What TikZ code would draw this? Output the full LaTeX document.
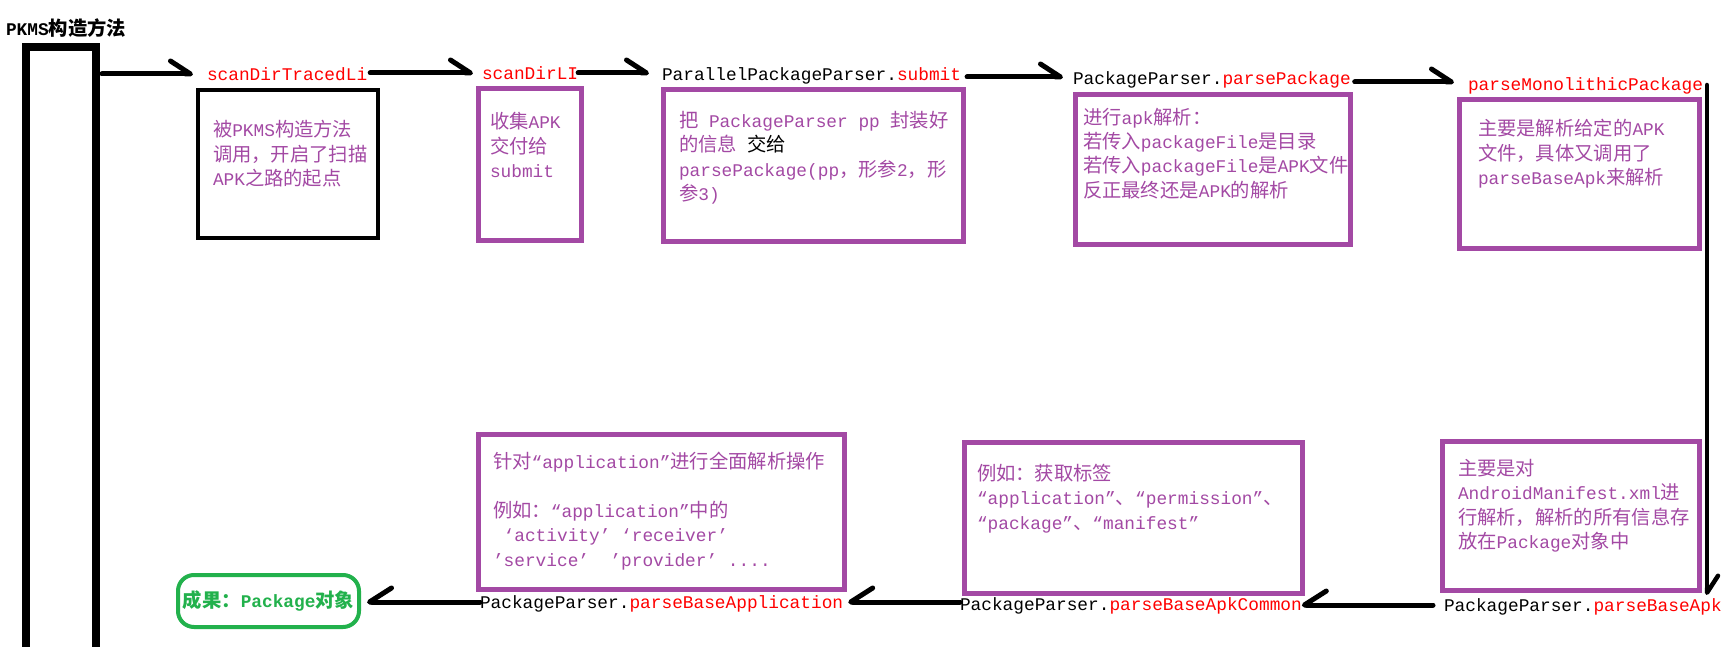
\documentclass[tikz,border=0pt]{standalone}
\usepackage{fontspec}
\setmainfont{Liberation Mono}
\newfontfamily\cjkf{Noto Sans CJK SC}[Scale=1.085]
\usetikzlibrary{arrows.meta,calc}
\XeTeXinterchartokenstate=1
\chardef\cjkcls=7
\makeatletter
\def\cjkrange#1#2{\count@=#1\relax
  \loop\ifnum\count@<#2\relax
    \XeTeXcharclass\count@=\cjkcls
    \advance\count@\@ne
  \repeat}
\cjkrange{"3000}{"3040}
\cjkrange{"4E00}{"A000}
\cjkrange{"FF00}{"FFF0}
\makeatother
\XeTeXcharclass"2018=0
\XeTeXcharclass"2019=0
\XeTeXcharclass"201C=0
\XeTeXcharclass"201D=0
\XeTeXinterchartoks 0 \cjkcls = {\cjkf}
\XeTeXinterchartoks 4095 \cjkcls = {\cjkf}
\XeTeXinterchartoks \cjkcls 0 = {\rmfamily}
\XeTeXinterchartoks \cjkcls 4095 = {\rmfamily}
\definecolor{ppl}{HTML}{A349A4}
\definecolor{grn}{HTML}{22B14C}
\definecolor{rd}{HTML}{FF0000}
\newcommand\fsz{\fontsize{17.8}{24.5}\selectfont}
\tikzset{
  every node/.style={inner sep=0pt, outer sep=0pt},
  lbl/.style={anchor=base west, text height=13pt, text depth=3pt, font=\fsz},
  pbox/.style={draw=ppl, line width=5pt, anchor=north west},
  kbox/.style={draw=black, line width=4.5pt, anchor=north west},
  btxt/.style={anchor=north west, align=left, text=ppl, font=\fsz},
  harp/.style={line width=5pt, line cap=round, -{Straight Barb[left,length=20pt,width=26pt,round]}},
  rharp/.style={line width=5pt, line cap=round, -{Straight Barb[right,length=22pt,width=28pt,round]}},
  vharp/.style={line width=4.5pt, line cap=round, -{Straight Barb[left,length=17pt,width=22pt,round]}},
}
\begin{document}
\begin{tikzpicture}[x=1pt,y=-1pt]
\useasboundingbox (0,0) rectangle (1730,647);
\fill[white] (0,0) rectangle (1730,647);
% title and main column
\node[anchor=base west, font=\fsz\bfseries] (title) at (6,36) {PKMS构造方法};
\node[draw, line width=7.5pt, minimum width=70pt, minimum height=660pt, anchor=north west] (pkms) at (26,47) {};
% labels
\node[lbl, text=rd] (l1) at (207,81) {scanDirTracedLi};
\node[lbl, text=rd] (l2) at (482,80) {scanDirLI};
\node[lbl] (l3) at (662,81) {ParallelPackageParser.{\color{rd}submit}};
\node[lbl] (l4) at (1073,85) {PackageParser.{\color{rd}parsePackage}};
\node[lbl, text=rd] (l5) at (1468,91) {parseMonolithicPackage};
\node[lbl] (l6) at (1444,611) {PackageParser.{\color{rd}parseBaseApk}};
\node[lbl] (l7) at (960,610) {PackageParser.{\color{rd}parseBaseApkCommon}};
\node[lbl] (l8) at (480,608) {PackageParser.{\color{rd}parseBaseApplication}};
% boxes
\node[kbox, minimum width=180pt, minimum height=148pt] (b1) at (198,90) {};
\node[pbox, minimum width=103pt, minimum height=152pt] (b2) at (478.5,88.5) {};
\node[pbox, minimum width=300pt, minimum height=152pt] (b3) at (663.5,89.5) {};
\node[pbox, minimum width=275pt, minimum height=150pt] (b4) at (1075.5,94.5) {};
\node[pbox, minimum width=240pt, minimum height=149pt] (b5) at (1459.5,99.5) {};
\node[pbox, minimum width=257pt, minimum height=149pt] (b6) at (1442.5,441.5) {};
\node[pbox, minimum width=338pt, minimum height=151pt] (b7) at (964.5,442.5) {};
\node[pbox, minimum width=366pt, minimum height=155pt] (b8) at (478.5,434.5) {};
% box texts
\node[btxt] (t1) at (213,117) {\rule{0pt}{20pt}被PKMS构造方法\\调用，开启了扫描\\APK之路的起点};
\node[btxt] (t2) at (490,109) {\rule{0pt}{20pt}收集APK\\交付给\\submit};
\node[btxt] (t3) at (679,107) {\rule{0pt}{20pt}把 PackageParser pp 封装好\\的信息 {\color{black}交给}\\parsePackage(pp，形参2，形\\参3)};
\node[btxt] (t4) at (1083,104) {\rule{0pt}{20pt}进行apk解析：\\若传入packageFile是目录\\若传入packageFile是APK文件\\反正最终还是APK的解析};
\node[btxt] (t5) at (1478,116) {\rule{0pt}{20pt}主要是解析给定的APK\\文件，具体又调用了\\parseBaseApk来解析};
\node[btxt] (t6) at (1458,455) {\rule{0pt}{20pt}主要是对\\AndroidManifest.xml进\\行解析，解析的所有信息存\\放在Package对象中};
\node[btxt] (t7) at (977,460) {\rule{0pt}{20pt}例如：获取标签\\“application”、“permission”、\\“package”、“manifest”};
\node[btxt] (t8) at (493,448) {\rule{0pt}{20pt}针对“application”进行全面解析操作\\[24.5pt]例如：“application”中的\\~‘activity’ ‘receiver’\\'service’~~'provider’~....};
% result
\node[draw=grn, line width=4pt, rounded corners=16pt, minimum width=181pt, minimum height=52pt, text=grn, font=\fsz\bfseries] (res) at (268.5,601) {成果：Package对象};
% connectors
\draw[harp] ($(pkms.east |- l1.west)+(6,-2)$) -- ($(l1.west)+(-14,-2)$);
\draw[harp] ($(l1.east)+(3,-3)$) -- ($(l2.west)+(-9,-2)$);
\draw[harp] ($(l2.east)+(0,-2)$) -- ($(l3.west)+(-13,-3)$);
\draw[harp] ($(l3.east)+(6,1)$) -- ($(l4.west)+(-10,-3)$);
\draw[harp] ($(l4.east)+(4,2)$) -- ($(l5.west)+(-14,-4)$);
\draw[vharp] ($(l5.east)+(4,-1)$) -- ($(l5.east |- l6.north)+(4,-3)$);
\draw[rharp] ($(l6.west)+(-11,-1)$) -- ($(l7.east)+(0,0)$);
\draw[rharp] ($(l7.west)+(0,-3)$) -- ($(l8.east)+(5,-1)$);
\draw[rharp] ($(l8.west)+(0,-1)$) -- ($(res.east)+(8,1)$);
\end{tikzpicture}
\end{document}
